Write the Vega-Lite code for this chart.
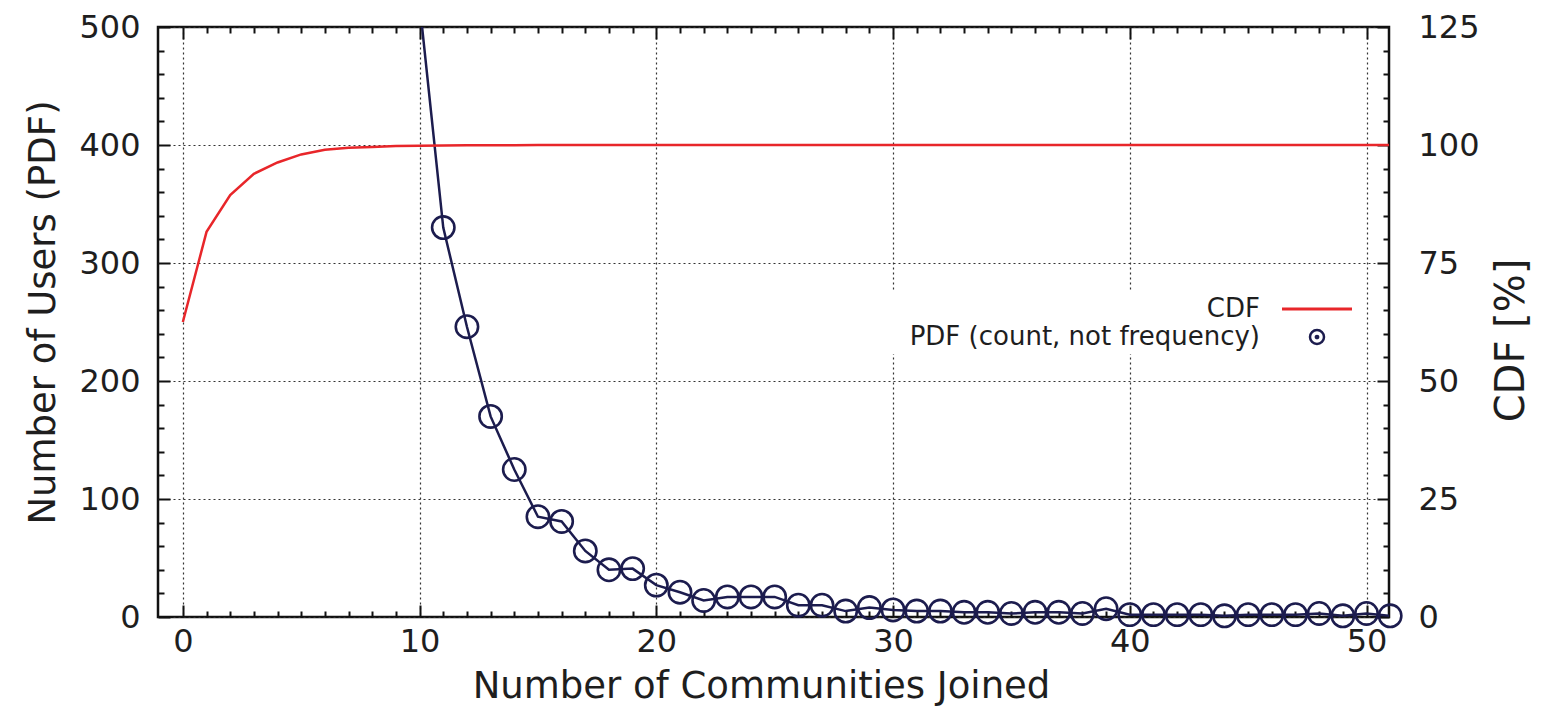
{
  "$schema": "https://vega.github.io/schema/vega-lite/v6.json",
  "width": 1231,
  "height": 590,
  "autosize": "none",
  "padding": {"left": 158, "top": 27, "right": 153, "bottom": 94},
  "background": "white",
  "datasets": {
    "pdf": [
      {"joined": 10, "users": 520},
      {"joined": 11, "users": 330},
      {"joined": 12, "users": 246},
      {"joined": 13, "users": 170},
      {"joined": 14, "users": 125},
      {"joined": 15, "users": 85},
      {"joined": 16, "users": 81},
      {"joined": 17, "users": 56},
      {"joined": 18, "users": 40},
      {"joined": 19, "users": 41},
      {"joined": 20, "users": 27},
      {"joined": 21, "users": 21},
      {"joined": 22, "users": 14},
      {"joined": 23, "users": 17},
      {"joined": 24, "users": 17},
      {"joined": 25, "users": 17},
      {"joined": 26, "users": 10},
      {"joined": 27, "users": 10},
      {"joined": 28, "users": 5},
      {"joined": 29, "users": 8},
      {"joined": 30, "users": 6},
      {"joined": 31, "users": 5},
      {"joined": 32, "users": 5},
      {"joined": 33, "users": 4},
      {"joined": 34, "users": 4},
      {"joined": 35, "users": 3},
      {"joined": 36, "users": 4},
      {"joined": 37, "users": 4},
      {"joined": 38, "users": 3},
      {"joined": 39, "users": 7},
      {"joined": 40, "users": 2},
      {"joined": 41, "users": 2},
      {"joined": 42, "users": 2},
      {"joined": 43, "users": 2},
      {"joined": 44, "users": 1},
      {"joined": 45, "users": 2},
      {"joined": 46, "users": 2},
      {"joined": 47, "users": 2},
      {"joined": 48, "users": 3},
      {"joined": 49, "users": 1},
      {"joined": 50, "users": 3},
      {"joined": 51, "users": 1}
    ],
    "cdf": [
      {"joined": 0, "cdf": 62.5},
      {"joined": 1, "cdf": 81.6},
      {"joined": 2, "cdf": 89.4},
      {"joined": 3, "cdf": 93.9},
      {"joined": 4, "cdf": 96.3},
      {"joined": 5, "cdf": 98.0},
      {"joined": 6, "cdf": 99.0},
      {"joined": 7, "cdf": 99.4},
      {"joined": 8, "cdf": 99.6},
      {"joined": 9, "cdf": 99.8},
      {"joined": 10, "cdf": 99.85},
      {"joined": 11, "cdf": 99.9},
      {"joined": 12, "cdf": 99.93},
      {"joined": 13, "cdf": 99.95},
      {"joined": 14, "cdf": 99.97},
      {"joined": 15, "cdf": 99.98},
      {"joined": 20, "cdf": 100},
      {"joined": 30, "cdf": 100},
      {"joined": 40, "cdf": 100},
      {"joined": 51, "cdf": 100}
    ]
  },
  "config": {
    "view": {"stroke": "#111111", "strokeWidth": 2.5},
    "axis": {
      "domain": false,
      "labelFont": "DejaVu Sans",
      "titleFont": "DejaVu Sans",
      "labelFontSize": 32,
      "titleFontSize": 37,
      "titleFontWeight": "normal",
      "labelColor": "#1e1e1e",
      "titleColor": "#1e1e1e",
      "tickColor": "#111111",
      "tickWidth": 2,
      "gridColor": "#333333",
      "gridDash": [2, 3],
      "gridWidth": 1.2,
      "labelOverlap": false,
      "labelFlush": false
    }
  },
  "layer": [
    {
      "data": {"name": "pdf"},
      "layer": [
        {
          "mark": {"type": "line", "strokeWidth": 2.5, "clip": true},
          "encoding": {
            "x": {
              "field": "joined",
              "type": "quantitative",
              "scale": {"domain": [-1.05, 50.95], "nice": false, "zero": false},
              "axis": {
                "orient": "bottom",
                "values": [0,1,2,3,4,5,6,7,8,9,10,11,12,13,14,15,16,17,18,19,20,21,22,23,24,25,26,27,28,29,30,31,32,33,34,35,36,37,38,39,40,41,42,43,44,45,46,47,48,49,50],
                "tickCount": 200,
                "format": "d",
                "title": "Number of Communities Joined",
                "titleX": 603,
                "labelExpr": "datum.value % 10 === 0 ? datum.label : ''",
                "labelOverlap": false,
                "tickSize": {"condition": {"test": "datum.value % 10 === 0", "value": -12}, "value": -6},
                "grid": true,
                "gridOpacity": {"condition": {"test": "datum.value % 10 === 0", "value": 1}, "value": 0},
                "labelPadding": 21,
                "titlePadding": 5
              }
            },
            "y": {
              "field": "users",
              "type": "quantitative",
              "scale": {"domain": [0, 500], "nice": false},
              "axis": {
                "orient": "left",
                "values": [0,20,40,60,80,100,120,140,160,180,200,220,240,260,280,300,320,340,360,380,400,420,440,460,480,500],
                "tickCount": 200,
                "format": "d",
                "title": "Number of Users (PDF)",
                "titleY": 285,
                "labelExpr": "datum.value % 100 === 0 ? datum.label : ''",
                "labelOverlap": false,
                "tickSize": {"condition": {"test": "datum.value % 100 === 0", "value": -12}, "value": -6},
                "grid": true,
                "gridOpacity": {"condition": {"test": "datum.value % 100 === 0", "value": 1}, "value": 0},
                "labelPadding": 30,
                "titlePadding": 16
              }
            },
            "color": {
              "datum": "PDF (count, not frequency)",
              "scale": {"domain": ["CDF", "PDF (count, not frequency)"], "range": ["#e8262a", "#1c1c4e"]},
              "legend": {
                "title": null,
                "orient": "none",
                "direction": "vertical",
                "legendX": 720,
                "legendY": 264,
                "fillColor": "white",
                "padding": 4,
                "symbolSize": 196,
                "symbolOffset": 0,
                "labelOffset": 0,
                "labelFont": "DejaVu Sans",
                "labelFontSize": 26,
                "labelColor": "#1e1e1e",
                "labelLimit": 600,
                "rowPadding": 1,
                "encode": {
                  "labels": {
                    "update": {
                      "x": {"value": 378},
                      "y": {"value": 14},
                      "align": {"value": "right"},
                      "baseline": {"value": "middle"}
                    }
                  },
                  "symbols": {
                    "update": {
                      "x": {"value": 435},
                      "y": {"value": 14},
                      "shape": {"signal": "datum.value === 'CDF' ? 'stroke' : 'M1,0A1,1,0,1,1,-1,0A1,1,0,1,1,1,0ZM0.16,0A0.16,0.16,0,1,1,-0.16,0A0.16,0.16,0,1,1,0.16,0Z'"},
                      "size": {"signal": "datum.value === 'CDF' ? 4900 : 196"},
                      "stroke": {"signal": "datum.value === 'CDF' ? '#e8262a' : '#1c1c4e'"},
                      "strokeWidth": {"signal": "datum.value === 'CDF' ? 3 : 2.5"},
                      "fill": {"value": "transparent"},
                      "opacity": {"value": 1}
                    }
                  }
                }
              }
            }
          }
        },
        {
          "transform": [{"filter": "datum.users <= 500"}],
          "mark": {
            "type": "point",
            "shape": "circle",
            "size": 500,
            "strokeWidth": 2.6,
            "filled": false,
            "opacity": 1
          },
          "encoding": {
            "x": {"field": "joined", "type": "quantitative"},
            "y": {"field": "users", "type": "quantitative"},
            "color": {"datum": "PDF (count, not frequency)"}
          }
        }
      ]
    },
    {
      "data": {"name": "cdf"},
      "mark": {"type": "line", "strokeWidth": 2.5, "clip": true},
      "encoding": {
        "x": {
          "field": "joined",
          "type": "quantitative",
          "axis": {
            "orient": "top",
            "values": [0,1,2,3,4,5,6,7,8,9,10,11,12,13,14,15,16,17,18,19,20,21,22,23,24,25,26,27,28,29,30,31,32,33,34,35,36,37,38,39,40,41,42,43,44,45,46,47,48,49,50],
            "tickCount": 200,
            "labels": false,
            "title": null,
            "grid": false,
            "tickSize": {"condition": {"test": "datum.value % 10 === 0", "value": -12}, "value": -6}
          }
        },
        "y": {
          "field": "cdf",
          "type": "quantitative",
          "scale": {"domain": [0, 125], "nice": false},
          "axis": {
            "orient": "right",
            "values": [0,5,10,15,20,25,30,35,40,45,50,55,60,65,70,75,80,85,90,95,100,105,110,115,120,125],
            "tickCount": 200,
            "format": "d",
            "title": "CDF [%]",
            "titleFontSize": 40,
            "titleAngle": 270,
            "titleBaseline": "top",
            "titleY": 313,
            "labelExpr": "datum.value % 25 === 0 ? datum.label : ''",
            "labelOverlap": false,
            "tickSize": {"condition": {"test": "datum.value % 25 === 0", "value": -12}, "value": -6},
            "grid": false,
            "labelPadding": 41,
            "titlePadding": 12
          }
        },
        "color": {"datum": "CDF"}
      }
    }
  ],
  "resolve": {"scale": {"y": "independent"}, "axis": {"x": "independent", "y": "independent"}}
}
